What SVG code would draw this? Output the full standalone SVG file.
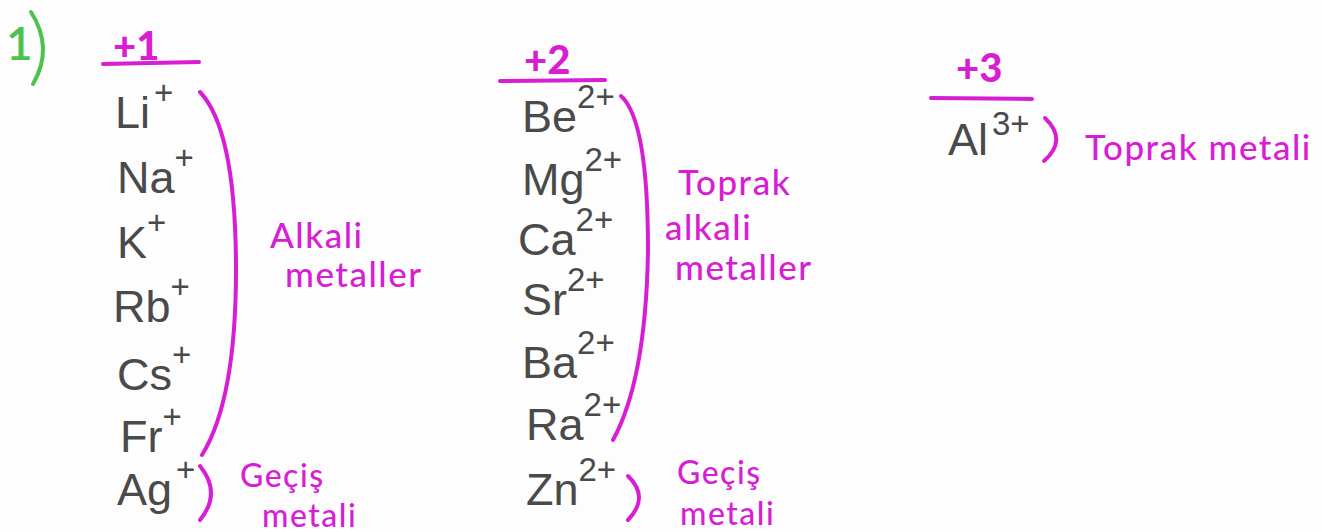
<svg xmlns="http://www.w3.org/2000/svg" width="1323" height="532" viewBox="0 0 1323 532">
<style>
.ion{font-family:"Liberation Sans",Arial,sans-serif;font-size:45px;fill:#4a4a4a}
.sup{font-size:33px}
.mg{font-family:Lato,"Noto Sans",sans-serif;font-size:35px;fill:#d81ed4;font-weight:500;letter-spacing:1.5px}
.sm{font-size:32px}
.hd{font-family:Lato,"Noto Sans",sans-serif;font-size:40px;fill:#d81ed4;font-weight:900}
.br{fill:none;stroke:#d81ed4;stroke-width:4;stroke-linecap:round}
.rule{stroke:#d81ed4;stroke-width:4;stroke-linecap:round}
</style>
<rect width="1323" height="532" fill="#fdfdfd"/>
<g id="number">
<text x="6" y="60" font-family="Lato,sans-serif" font-size="46" fill="#4ec24e" font-weight="600">1</text>
<path d="M31 12 Q54 48 33 84" fill="none" stroke="#4ec24e" stroke-width="4" stroke-linecap="round"/>
</g>
<g id="col1">
<text class="hd" x="113" y="60">+1</text>
<line class="rule" x1="103" y1="64" x2="199" y2="62"/>
<text class="ion" x="115" y="128">Li<tspan class="sup" dx="4" dy="-24">+</tspan></text>
<text class="ion" x="117" y="193">Na<tspan class="sup" dy="-24">+</tspan></text>
<text class="ion" x="117" y="258">K<tspan class="sup" dy="-24">+</tspan></text>
<text class="ion" x="113" y="322">Rb<tspan class="sup" dy="-24">+</tspan></text>
<text class="ion" x="117" y="390">Cs<tspan class="sup" dy="-24">+</tspan></text>
<text class="ion" x="120" y="452">Fr<tspan class="sup" dy="-24">+</tspan></text>
<text class="ion" x="117" y="505">Ag<tspan class="sup" dx="4" dy="-24">+</tspan></text>
<path class="br" d="M200 92 Q236 130 236 270 Q236 400 202 455"/>
<text class="mg" x="270" y="248">Alkali</text>
<text class="mg" x="285" y="287">metaller</text>
<path class="br" d="M200 466 Q222 493 200 520"/>
<text class="mg sm" x="240" y="487">Geçiş</text>
<text class="mg sm" x="262" y="527">metali</text>
</g>
<g id="col2">
<text class="hd" x="524" y="74">+2</text>
<line class="rule" x1="500" y1="81" x2="605" y2="80"/>
<text class="ion" x="522" y="132">Be<tspan class="sup" dy="-24">2+</tspan></text>
<text class="ion" x="522" y="195">Mg<tspan class="sup" dy="-24">2+</tspan></text>
<text class="ion" x="518" y="255">Ca<tspan class="sup" dy="-24">2+</tspan></text>
<text class="ion" x="522" y="315">Sr<tspan class="sup" dy="-24">2+</tspan></text>
<text class="ion" x="522" y="378">Ba<tspan class="sup" dy="-24">2+</tspan></text>
<text class="ion" x="526" y="440">Ra<tspan class="sup" dy="-24">2+</tspan></text>
<text class="ion" x="526" y="505">Zn<tspan class="sup" dy="-24">2+</tspan></text>
<path class="br" d="M621 96 Q648 120 648 250 Q646 380 613 440"/>
<text class="mg" x="678" y="195">Toprak</text>
<text class="mg" x="665" y="240">alkali</text>
<text class="mg" x="675" y="280">metaller</text>
<path class="br" d="M628 476 Q650 497 628 520"/>
<text class="mg sm" x="677" y="484">Geçiş</text>
<text class="mg sm" x="680" y="525">metali</text>
</g>
<g id="col3">
<text class="hd" x="956" y="82">+3</text>
<line class="rule" x1="931" y1="98" x2="1032" y2="99"/>
<text class="ion" x="948" y="155">Al<tspan class="sup" dx="4" dy="-20">3+</tspan></text>
<path class="br" d="M1045 118 Q1068 140 1044 161"/>
<text class="mg" x="1085" y="160">Toprak metali</text>
</g>
</svg>
